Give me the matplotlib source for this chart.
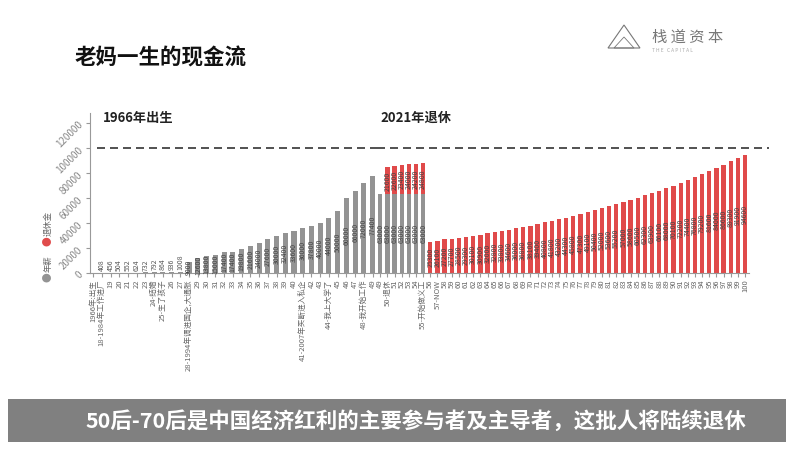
import matplotlib
matplotlib.use("Agg")
import matplotlib.pyplot as plt
from matplotlib.patches import Polygon, Rectangle

plt.rcParams['font.family'] = ['Noto Sans CJK SC', 'DejaVu Sans']

# working years: birth, then age 18 to 49
labels_work = ["1966年:出生", "18-1984年工作进厂", "19", "20", "21", "22", "23",
               "24-结婚", "25-生了孩子", "26", "27", "28-1994年调进国企,大通胀",
               "29", "30", "31", "32", "33", "34", "35", "36", "37", "38", "39", "40",
               "41-2007年买断进入私企", "42", "43", "44-我上大学了", "45", "46", "47",
               "48-我开始工作", "49"]
wage_work = [0, 408, 456, 504, 552, 624, 732, 792, 864, 936, 1008,
             9000, 12600, 13800, 15000, 17400, 17400, 19800, 21600, 24000, 27600,
             30000, 32400, 33600, 36000, 37800, 40000, 44000, 50000, 60000, 66000,
             72000, 77400]

# retirement years
labels_ret = ["49", "50-退休", "51", "52", "53", "54", "55-开始做义工", "56", "57-NOW"] + \
             [str(a) for a in range(58, 101)]
wage_ret = [63000, 63000, 63000, 63000, 63000, 63000, 63000] + [0] * 45
pension_ret = [0, 21600, 22600, 23400, 24000, 24200, 24800,
               25300, 26100, 27200, 27700, 28500, 29300, 30100, 30900, 32000, 32800,
               33800, 34600, 36000, 36800, 38100, 39400, 40800, 41800, 43200, 44300,
               45800, 47300, 49100, 50400, 52000, 53600, 55200, 57000, 58600, 60500,
               62300, 63900, 66100, 68000, 70100, 72200, 74400, 76800, 79200, 81600,
               84000, 86600, 89300, 91900, 94600]

GREY = "#939393"
RED = "#e04a4a"
W, H = 800, 450

fig = plt.figure(figsize=(8, 4.5), dpi=100)
fig.patch.set_facecolor("white")

y0, y1 = 273.3, 113
ax_l = fig.add_axes([90 / W, 1 - y0 / H, (377 - 90) / W, (y0 - y1) / H])
ax_r = fig.add_axes([377 / W, 1 - y0 / H, (748.6 - 377) / W, (y0 - y1) / H])


def label_bar(ax, x, base, v):
    if v <= 0:
        return
    if v < 3000:
        ax.text(x, base + v + 1500, str(v), rotation=90, ha="center", va="bottom",
                fontsize=5, color="#555")
    else:
        ax.text(x, base + v / 2, str(v), rotation=90, ha="center", va="center",
                fontsize=5, color="#444")


xl = range(len(labels_work))
ax_l.bar(xl, wage_work, width=0.58, color=GREY)
for i, v in enumerate(wage_work):
    label_bar(ax_l, i, 0, v)

xr = range(len(labels_ret))
ax_r.bar(xr, wage_ret, width=0.6, color=GREY)
ax_r.bar(xr, pension_ret, width=0.6, bottom=wage_ret, color=RED)
for i in xr:
    label_bar(ax_r, i, 0, wage_ret[i])
    label_bar(ax_r, i, wage_ret[i], pension_ret[i])

for ax in (ax_l, ax_r):
    ax.set_ylim(0, 128000)
    ax.spines["top"].set_visible(False)
    ax.spines["right"].set_visible(False)
    ax.spines["bottom"].set_color("#999")
    ax.tick_params(axis="x", length=3, color="#999", labelsize=5.5,
                   labelcolor="#666", pad=1.5)

ax_l.set_xlim(-0.35, len(labels_work) - 0.5)
ax_l.set_xticks(list(xl))
ax_l.set_xticklabels(labels_work, rotation=90)
ax_l.spines["left"].set_color("#999")
ax_l.set_yticks(range(0, 120001, 20000))
ax_l.set_yticklabels([str(v) for v in range(0, 120001, 20000)], rotation=45,
                     ha="right", va="center", rotation_mode="anchor")
ax_l.tick_params(axis="y", length=3, color="#999", labelsize=7, labelcolor="#888")

ax_r.set_xlim(-0.45, len(labels_ret) - 0.5)
ax_r.set_xticks(list(xr))
ax_r.set_xticklabels(labels_ret, rotation=90)
ax_r.spines["left"].set_visible(False)
ax_r.set_yticks([])

# 100000 reference line
dash = dict(color="#333", lw=1.2, ls=(0, (4.8, 3)), clip_on=False)
ax_l.plot([0.024, 1], [100000, 100000], transform=ax_l.get_yaxis_transform(), **dash)
ax_r.plot([0, 1.055], [100000, 100000], transform=ax_r.get_yaxis_transform(), **dash)

# legend (rotated)
fig.text(48 / W, 1 - 277 / H, "●", color=GREY, fontsize=7, rotation=90,
         ha="center", va="center")
fig.text(48 / W, 1 - 264 / H, "年薪", color="#666", fontsize=6, rotation=90,
         ha="center", va="center")
fig.text(48 / W, 1 - 241 / H, "●", color=RED, fontsize=7, rotation=90,
         ha="center", va="center")
fig.text(48 / W, 1 - 223 / H, "退休金", color="#666", fontsize=6, rotation=90,
         ha="center", va="center")

# titles and notes
fig.text(75 / W, 1 - 58 / H, "老妈一生的现金流", fontsize=15.5, fontweight="bold",
         color="#111", va="center")
fig.text(103 / W, 1 - 118 / H, "1966年出生", fontsize=9.5, fontweight="bold",
         color="#222", va="center")
fig.text(380 / W, 1 - 118 / H, "2021年退休", fontsize=9.5, fontweight="bold",
         color="#222", va="center")

# logo
tri = [(608 / W, 1 - 48 / H), (624 / W, 1 - 25 / H), (640 / W, 1 - 48 / H)]
fig.add_artist(Polygon(tri, closed=True, fill=False, ec="#777", lw=0.8,
                       transform=fig.transFigure))
fig.add_artist(Polygon([(614 / W, 1 - 48 / H), (624 / W, 1 - 37 / H), (634 / W, 1 - 48 / H)],
                       closed=True, fill=False, ec="#777", lw=0.6, transform=fig.transFigure))
fig.text(652 / W, 1 - 37 / H, "栈 道 资 本", fontsize=11, color="#777", va="center")
fig.text(652 / W, 1 - 50 / H, "T H E   C A P I T A L", fontsize=3.5, color="#aaa",
         va="center")

# bottom banner
fig.add_artist(Rectangle((8 / W, 1 - 442 / H), (786 - 8) / W, 43 / H,
                         facecolor="#808080", edgecolor="none", transform=fig.transFigure))
fig.text(85 / W, 1 - 421 / H, "50后-70后是中国经济红利的主要参与者及主导者，这批人将陆续退休",
         fontsize=15.5, fontweight="bold", color="white", va="center")

fig.savefig("out.png", dpi=100)
